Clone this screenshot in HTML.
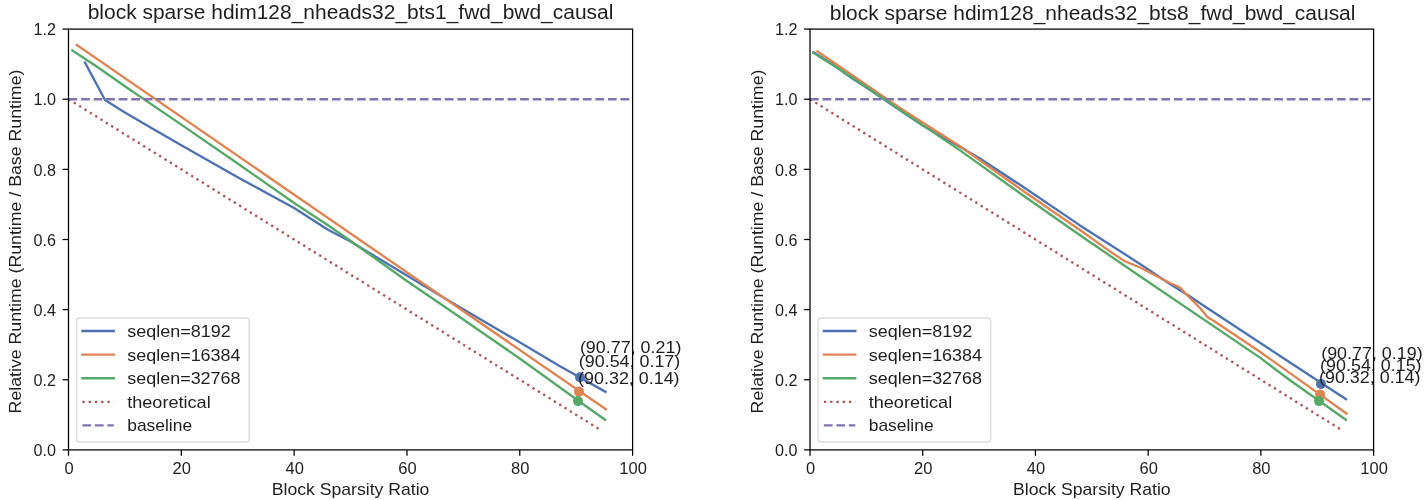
<!DOCTYPE html>
<html><head><meta charset="utf-8"><style>
html,body{margin:0;padding:0;background:#fff;}
body{width:1426px;height:500px;overflow:hidden;}
svg{display:block;will-change:transform;}
text{font-family:"Liberation Sans",sans-serif;}
</style></head><body>
<svg width="1426" height="500" viewBox="0 0 1426 500">
<polyline points="85.00,62.50 105.00,100.00 124.50,112.20 148.00,126.00 181.30,145.30 237.70,177.30 294.10,208.00 328.00,229.80 350.50,241.50 406.90,275.50 445.00,298.50 485.00,322.00 519.70,342.30 560.00,366.30 605.50,391.80" fill="none" stroke="#4C72B0" stroke-width="2.35" stroke-linecap="square" stroke-linejoin="round"/>
<polyline points="76.80,45.00 606.00,409.40" fill="none" stroke="#DD8452" stroke-width="2.35" stroke-linecap="square" stroke-linejoin="round"/>
<polyline points="72.30,50.50 96.00,66.00 124.90,86.20 181.30,124.60 237.70,163.50 294.10,203.00 328.00,225.30 350.50,240.80 406.90,281.00 463.30,319.50 519.70,358.50 585.00,405.50 605.20,419.80" fill="none" stroke="#55A868" stroke-width="2.35" stroke-linecap="square" stroke-linejoin="round"/>
<line x1="68.50" y1="99.23" x2="600.45" y2="429.91" stroke="#A8585B" stroke-width="2.35" stroke-dasharray="2.370 3.910"/>
<line x1="68.50" y1="99.23" x2="632.60" y2="99.23" stroke="#8172B3" stroke-width="2.35" stroke-dasharray="8.758 3.787"/>
<circle cx="580.00" cy="377.30" r="5.0" fill="#4C72B0"/>
<circle cx="579.00" cy="391.60" r="5.0" fill="#DD8452"/>
<circle cx="578.00" cy="401.10" r="5.0" fill="#55A868"/>
<text x="579.90" y="353.30" font-size="16.38" text-anchor="start" textLength="101.48" lengthAdjust="spacingAndGlyphs" fill="#1e1e1e">(90.77, 0.21)</text>
<text x="578.80" y="366.50" font-size="16.38" text-anchor="start" textLength="101.48" lengthAdjust="spacingAndGlyphs" fill="#1e1e1e">(90.54, 0.17)</text>
<text x="578.10" y="383.50" font-size="16.38" text-anchor="start" textLength="101.48" lengthAdjust="spacingAndGlyphs" fill="#1e1e1e">(90.32, 0.14)</text>
<rect x="76.60" y="318.10" width="172.60" height="124.00" rx="3" ry="3" fill="#fff" fill-opacity="0.8" stroke="#d4d4d4" stroke-opacity="0.8" stroke-width="1.5"/>
<line x1="82.40" y1="331.00" x2="113.80" y2="331.00" stroke="#4C72B0" stroke-width="2.35" stroke-linecap="square"/>
<text x="127.20" y="337.00" font-size="16.74" text-anchor="start" textLength="103.55" lengthAdjust="spacingAndGlyphs" fill="#1e1e1e">seqlen=8192</text>
<line x1="82.40" y1="354.60" x2="113.80" y2="354.60" stroke="#DD8452" stroke-width="2.35" stroke-linecap="square"/>
<text x="127.20" y="360.60" font-size="16.74" text-anchor="start" textLength="113.41" lengthAdjust="spacingAndGlyphs" fill="#1e1e1e">seqlen=16384</text>
<line x1="82.40" y1="378.20" x2="113.80" y2="378.20" stroke="#55A868" stroke-width="2.35" stroke-linecap="square"/>
<text x="127.20" y="384.20" font-size="16.74" text-anchor="start" textLength="113.41" lengthAdjust="spacingAndGlyphs" fill="#1e1e1e">seqlen=32768</text>
<line x1="82.40" y1="401.80" x2="113.80" y2="401.80" stroke="#A8585B" stroke-width="2.35" stroke-dasharray="2.355 3.886" stroke-linecap="butt"/>
<text x="127.20" y="407.80" font-size="16.74" text-anchor="start" textLength="83.54" lengthAdjust="spacingAndGlyphs" fill="#1e1e1e">theoretical</text>
<line x1="82.40" y1="425.40" x2="113.80" y2="425.40" stroke="#8172B3" stroke-width="2.35" stroke-dasharray="8.714 3.768" stroke-linecap="butt"/>
<text x="127.20" y="431.40" font-size="16.74" text-anchor="start" textLength="64.92" lengthAdjust="spacingAndGlyphs" fill="#1e1e1e">baseline</text>
<rect x="68.50" y="29.10" width="564.10" height="420.80" fill="none" stroke="#000" stroke-width="1.26" stroke-linejoin="miter"/>
<line x1="68.50" y1="449.90" x2="68.50" y2="455.80" stroke="#000" stroke-width="1.26"/>
<text x="69.00" y="474.10" font-size="15.96" text-anchor="middle" textLength="9.19" lengthAdjust="spacingAndGlyphs" fill="#1e1e1e">0</text>
<line x1="181.32" y1="449.90" x2="181.32" y2="455.80" stroke="#000" stroke-width="1.26"/>
<text x="181.82" y="474.10" font-size="15.96" text-anchor="middle" textLength="18.37" lengthAdjust="spacingAndGlyphs" fill="#1e1e1e">20</text>
<line x1="294.14" y1="449.90" x2="294.14" y2="455.80" stroke="#000" stroke-width="1.26"/>
<text x="294.64" y="474.10" font-size="15.96" text-anchor="middle" textLength="18.37" lengthAdjust="spacingAndGlyphs" fill="#1e1e1e">40</text>
<line x1="406.96" y1="449.90" x2="406.96" y2="455.80" stroke="#000" stroke-width="1.26"/>
<text x="407.46" y="474.10" font-size="15.96" text-anchor="middle" textLength="18.37" lengthAdjust="spacingAndGlyphs" fill="#1e1e1e">60</text>
<line x1="519.78" y1="449.90" x2="519.78" y2="455.80" stroke="#000" stroke-width="1.26"/>
<text x="520.28" y="474.10" font-size="15.96" text-anchor="middle" textLength="18.37" lengthAdjust="spacingAndGlyphs" fill="#1e1e1e">80</text>
<line x1="632.60" y1="449.90" x2="632.60" y2="455.80" stroke="#000" stroke-width="1.26"/>
<text x="633.10" y="474.10" font-size="15.96" text-anchor="middle" textLength="27.56" lengthAdjust="spacingAndGlyphs" fill="#1e1e1e">100</text>
<line x1="68.50" y1="449.90" x2="62.60" y2="449.90" stroke="#000" stroke-width="1.26"/>
<text x="55.90" y="456.10" font-size="15.96" text-anchor="end" textLength="22.48" lengthAdjust="spacingAndGlyphs" fill="#1e1e1e">0.0</text>
<line x1="68.50" y1="379.77" x2="62.60" y2="379.77" stroke="#000" stroke-width="1.26"/>
<text x="55.90" y="385.97" font-size="15.96" text-anchor="end" textLength="22.48" lengthAdjust="spacingAndGlyphs" fill="#1e1e1e">0.2</text>
<line x1="68.50" y1="309.63" x2="62.60" y2="309.63" stroke="#000" stroke-width="1.26"/>
<text x="55.90" y="315.83" font-size="15.96" text-anchor="end" textLength="22.48" lengthAdjust="spacingAndGlyphs" fill="#1e1e1e">0.4</text>
<line x1="68.50" y1="239.50" x2="62.60" y2="239.50" stroke="#000" stroke-width="1.26"/>
<text x="55.90" y="245.70" font-size="15.96" text-anchor="end" textLength="22.48" lengthAdjust="spacingAndGlyphs" fill="#1e1e1e">0.6</text>
<line x1="68.50" y1="169.37" x2="62.60" y2="169.37" stroke="#000" stroke-width="1.26"/>
<text x="55.90" y="175.57" font-size="15.96" text-anchor="end" textLength="22.48" lengthAdjust="spacingAndGlyphs" fill="#1e1e1e">0.8</text>
<line x1="68.50" y1="99.23" x2="62.60" y2="99.23" stroke="#000" stroke-width="1.26"/>
<text x="55.90" y="105.43" font-size="15.96" text-anchor="end" textLength="22.48" lengthAdjust="spacingAndGlyphs" fill="#1e1e1e">1.0</text>
<line x1="68.50" y1="29.10" x2="62.60" y2="29.10" stroke="#000" stroke-width="1.26"/>
<text x="55.90" y="35.30" font-size="15.96" text-anchor="end" textLength="22.48" lengthAdjust="spacingAndGlyphs" fill="#1e1e1e">1.2</text>
<text x="350.55" y="494.60" font-size="16.38" text-anchor="middle" textLength="157.65" lengthAdjust="spacingAndGlyphs" fill="#1e1e1e">Block Sparsity Ratio</text>
<text transform="translate(21.20,241.5) rotate(-90)" x="0" y="0" font-size="16.38" text-anchor="middle" fill="#1e1e1e" textLength="343.79" lengthAdjust="spacingAndGlyphs">Relative Runtime (Runtime / Base Runtime)</text>
<text x="350.55" y="18.90" font-size="19.90" text-anchor="middle" textLength="525.71" lengthAdjust="spacingAndGlyphs" fill="#1e1e1e">block sparse hdim128_nheads32_bts1_fwd_bwd_causal</text>
<polyline points="813.50,52.20 830.00,62.50 852.00,78.20 866.40,87.50 900.00,110.20 922.70,125.50 979.10,158.00 1020.00,184.80 1080.00,225.40 1140.00,263.90 1170.00,284.00 1190.00,296.50 1200.00,303.30 1260.00,342.70 1290.00,362.60 1345.90,399.20" fill="none" stroke="#4C72B0" stroke-width="2.35" stroke-linecap="square" stroke-linejoin="round"/>
<polyline points="817.60,51.50 840.00,66.80 866.40,85.00 900.00,108.00 960.00,146.30 1020.00,188.70 1080.00,230.00 1110.00,251.40 1124.40,261.00 1140.00,267.50 1170.00,283.00 1180.00,287.50 1190.00,298.00 1200.00,308.00 1208.00,317.50 1214.00,321.00 1260.00,351.80 1290.00,373.10 1346.60,413.50" fill="none" stroke="#DD8452" stroke-width="2.35" stroke-linecap="square" stroke-linejoin="round"/>
<polyline points="813.40,52.90 840.00,69.60 866.40,87.00 900.00,109.90 960.00,150.40 1020.00,193.20 1080.00,235.30 1140.00,276.20 1260.00,357.60 1290.00,380.30 1346.00,419.80" fill="none" stroke="#55A868" stroke-width="2.35" stroke-linecap="square" stroke-linejoin="round"/>
<line x1="810.00" y1="99.23" x2="1341.47" y2="429.91" stroke="#A8585B" stroke-width="2.35" stroke-dasharray="2.370 3.910"/>
<line x1="810.00" y1="99.23" x2="1373.60" y2="99.23" stroke="#8172B3" stroke-width="2.35" stroke-dasharray="8.758 3.787"/>
<circle cx="1321.00" cy="383.90" r="5.0" fill="#4C72B0"/>
<circle cx="1320.10" cy="394.40" r="5.0" fill="#DD8452"/>
<circle cx="1319.00" cy="401.10" r="5.0" fill="#55A868"/>
<text x="1321.20" y="358.60" font-size="16.38" text-anchor="start" textLength="101.48" lengthAdjust="spacingAndGlyphs" fill="#1e1e1e">(90.77, 0.19)</text>
<text x="1320.10" y="371.30" font-size="16.38" text-anchor="start" textLength="101.48" lengthAdjust="spacingAndGlyphs" fill="#1e1e1e">(90.54, 0.15)</text>
<text x="1319.00" y="383.10" font-size="16.38" text-anchor="start" textLength="101.48" lengthAdjust="spacingAndGlyphs" fill="#1e1e1e">(90.32, 0.14)</text>
<rect x="818.10" y="318.10" width="172.60" height="124.00" rx="3" ry="3" fill="#fff" fill-opacity="0.8" stroke="#d4d4d4" stroke-opacity="0.8" stroke-width="1.5"/>
<line x1="823.90" y1="331.00" x2="855.30" y2="331.00" stroke="#4C72B0" stroke-width="2.35" stroke-linecap="square"/>
<text x="868.70" y="337.00" font-size="16.74" text-anchor="start" textLength="103.55" lengthAdjust="spacingAndGlyphs" fill="#1e1e1e">seqlen=8192</text>
<line x1="823.90" y1="354.60" x2="855.30" y2="354.60" stroke="#DD8452" stroke-width="2.35" stroke-linecap="square"/>
<text x="868.70" y="360.60" font-size="16.74" text-anchor="start" textLength="113.41" lengthAdjust="spacingAndGlyphs" fill="#1e1e1e">seqlen=16384</text>
<line x1="823.90" y1="378.20" x2="855.30" y2="378.20" stroke="#55A868" stroke-width="2.35" stroke-linecap="square"/>
<text x="868.70" y="384.20" font-size="16.74" text-anchor="start" textLength="113.41" lengthAdjust="spacingAndGlyphs" fill="#1e1e1e">seqlen=32768</text>
<line x1="823.90" y1="401.80" x2="855.30" y2="401.80" stroke="#A8585B" stroke-width="2.35" stroke-dasharray="2.355 3.886" stroke-linecap="butt"/>
<text x="868.70" y="407.80" font-size="16.74" text-anchor="start" textLength="83.54" lengthAdjust="spacingAndGlyphs" fill="#1e1e1e">theoretical</text>
<line x1="823.90" y1="425.40" x2="855.30" y2="425.40" stroke="#8172B3" stroke-width="2.35" stroke-dasharray="8.714 3.768" stroke-linecap="butt"/>
<text x="868.70" y="431.40" font-size="16.74" text-anchor="start" textLength="64.92" lengthAdjust="spacingAndGlyphs" fill="#1e1e1e">baseline</text>
<rect x="810.00" y="29.10" width="563.60" height="420.80" fill="none" stroke="#000" stroke-width="1.26" stroke-linejoin="miter"/>
<line x1="810.00" y1="449.90" x2="810.00" y2="455.80" stroke="#000" stroke-width="1.26"/>
<text x="810.50" y="474.10" font-size="15.96" text-anchor="middle" textLength="9.19" lengthAdjust="spacingAndGlyphs" fill="#1e1e1e">0</text>
<line x1="922.72" y1="449.90" x2="922.72" y2="455.80" stroke="#000" stroke-width="1.26"/>
<text x="923.22" y="474.10" font-size="15.96" text-anchor="middle" textLength="18.37" lengthAdjust="spacingAndGlyphs" fill="#1e1e1e">20</text>
<line x1="1035.44" y1="449.90" x2="1035.44" y2="455.80" stroke="#000" stroke-width="1.26"/>
<text x="1035.94" y="474.10" font-size="15.96" text-anchor="middle" textLength="18.37" lengthAdjust="spacingAndGlyphs" fill="#1e1e1e">40</text>
<line x1="1148.16" y1="449.90" x2="1148.16" y2="455.80" stroke="#000" stroke-width="1.26"/>
<text x="1148.66" y="474.10" font-size="15.96" text-anchor="middle" textLength="18.37" lengthAdjust="spacingAndGlyphs" fill="#1e1e1e">60</text>
<line x1="1260.88" y1="449.90" x2="1260.88" y2="455.80" stroke="#000" stroke-width="1.26"/>
<text x="1261.38" y="474.10" font-size="15.96" text-anchor="middle" textLength="18.37" lengthAdjust="spacingAndGlyphs" fill="#1e1e1e">80</text>
<line x1="1373.60" y1="449.90" x2="1373.60" y2="455.80" stroke="#000" stroke-width="1.26"/>
<text x="1374.10" y="474.10" font-size="15.96" text-anchor="middle" textLength="27.56" lengthAdjust="spacingAndGlyphs" fill="#1e1e1e">100</text>
<line x1="810.00" y1="449.90" x2="804.10" y2="449.90" stroke="#000" stroke-width="1.26"/>
<text x="797.40" y="456.10" font-size="15.96" text-anchor="end" textLength="22.48" lengthAdjust="spacingAndGlyphs" fill="#1e1e1e">0.0</text>
<line x1="810.00" y1="379.77" x2="804.10" y2="379.77" stroke="#000" stroke-width="1.26"/>
<text x="797.40" y="385.97" font-size="15.96" text-anchor="end" textLength="22.48" lengthAdjust="spacingAndGlyphs" fill="#1e1e1e">0.2</text>
<line x1="810.00" y1="309.63" x2="804.10" y2="309.63" stroke="#000" stroke-width="1.26"/>
<text x="797.40" y="315.83" font-size="15.96" text-anchor="end" textLength="22.48" lengthAdjust="spacingAndGlyphs" fill="#1e1e1e">0.4</text>
<line x1="810.00" y1="239.50" x2="804.10" y2="239.50" stroke="#000" stroke-width="1.26"/>
<text x="797.40" y="245.70" font-size="15.96" text-anchor="end" textLength="22.48" lengthAdjust="spacingAndGlyphs" fill="#1e1e1e">0.6</text>
<line x1="810.00" y1="169.37" x2="804.10" y2="169.37" stroke="#000" stroke-width="1.26"/>
<text x="797.40" y="175.57" font-size="15.96" text-anchor="end" textLength="22.48" lengthAdjust="spacingAndGlyphs" fill="#1e1e1e">0.8</text>
<line x1="810.00" y1="99.23" x2="804.10" y2="99.23" stroke="#000" stroke-width="1.26"/>
<text x="797.40" y="105.43" font-size="15.96" text-anchor="end" textLength="22.48" lengthAdjust="spacingAndGlyphs" fill="#1e1e1e">1.0</text>
<line x1="810.00" y1="29.10" x2="804.10" y2="29.10" stroke="#000" stroke-width="1.26"/>
<text x="797.40" y="35.30" font-size="15.96" text-anchor="end" textLength="22.48" lengthAdjust="spacingAndGlyphs" fill="#1e1e1e">1.2</text>
<text x="1091.80" y="494.60" font-size="16.38" text-anchor="middle" textLength="157.65" lengthAdjust="spacingAndGlyphs" fill="#1e1e1e">Block Sparsity Ratio</text>
<text transform="translate(762.70,241.5) rotate(-90)" x="0" y="0" font-size="16.38" text-anchor="middle" fill="#1e1e1e" textLength="343.79" lengthAdjust="spacingAndGlyphs">Relative Runtime (Runtime / Base Runtime)</text>
<text x="1092.60" y="19.50" font-size="19.90" text-anchor="middle" textLength="525.71" lengthAdjust="spacingAndGlyphs" fill="#1e1e1e">block sparse hdim128_nheads32_bts8_fwd_bwd_causal</text>
</svg>
</body></html>
